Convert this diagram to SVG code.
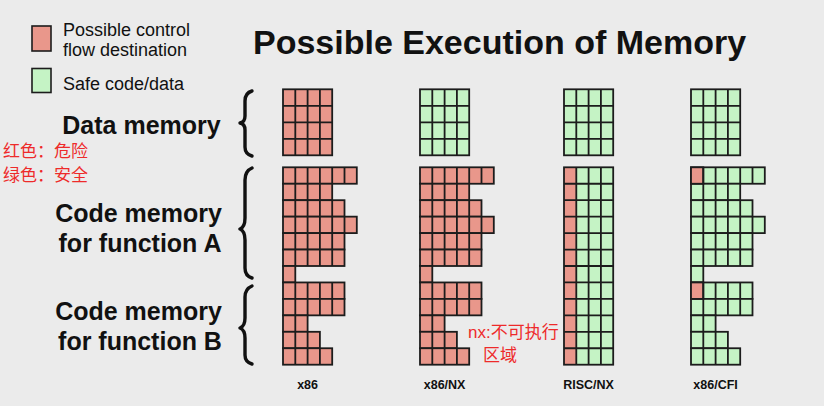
<svg xmlns="http://www.w3.org/2000/svg" xmlns:xlink="http://www.w3.org/1999/xlink" width="824" height="406" viewBox="0 0 824 406">
<style>
.bg{fill:#EBEBEB}
.r{fill:#E9978B}
.g{fill:#C5F3C5}
.cell rect{stroke:#1c1c1c;stroke-width:1.8}
.ln{fill:none;stroke:#1c1c1c;stroke-width:1.8}
.brace{fill:none;stroke:#111;stroke-width:3.4;stroke-linecap:round;stroke-linejoin:round}
.t{font-family:"Liberation Sans",Arial,sans-serif;fill:#111}
.title{font-size:34px;font-weight:bold}
.lab{font-size:25px;font-weight:bold;text-anchor:middle}
.leg{font-size:18px}
.col{font-size:12.5px;font-weight:bold;text-anchor:middle}
.cn{font-family:"Liberation Sans","Noto Sans CJK SC",sans-serif;font-size:17px;fill:#EE2A2A}
</style>
<defs>
<g id="dataBlock" class="cell">
<rect x="0" y="0" width="49.2" height="66"/>
<path class="ln" d="M12.3 0V66M24.6 0V66M36.9 0V66M0 16.5H49.2M0 33H49.2M0 49.5H49.2"/>
</g>
<g id="codeShape" class="cell">
<rect x="0" y="0" width="73.8" height="16.45"/>
<rect x="0" y="16.45" width="49.2" height="16.45"/>
<rect x="0" y="32.9" width="61.5" height="16.45"/>
<rect x="0" y="49.35" width="73.8" height="16.45"/>
<rect x="0" y="65.8" width="61.5" height="16.45"/>
<rect x="0" y="82.25" width="61.5" height="16.45"/>
<rect x="0" y="98.7" width="12.3" height="16.45"/>
<rect x="0" y="115.15" width="61.5" height="16.45"/>
<rect x="0" y="131.6" width="61.5" height="16.45"/>
<rect x="0" y="148.05" width="24.6" height="16.45"/>
<rect x="0" y="164.5" width="36.9" height="16.45"/>
<rect x="0" y="180.95" width="49.2" height="16.45"/>
</g>
<path id="codeLines" class="ln" d="M12.3 0V98.7M12.3 115.15V197.4M24.6 0V98.7M24.6 115.15V148.05M24.6 164.5V197.4M36.9 0V98.7M36.9 115.15V148.05M36.9 180.95V197.4M49.2 0V16.45M49.2 32.9V98.7M49.2 115.15V148.05M61.5 0V16.45M61.5 49.35V65.8"/>
</defs>
<rect class="bg" x="0" y="0" width="824" height="406"/>

<g id="legend">
<rect class="r" x="32" y="26" width="19" height="25" stroke="#1c1c1c" stroke-width="1.6"/>
<text class="t leg" x="63" y="36">Possible control</text>
<text class="t leg" x="63" y="56">flow destination</text>
<rect class="g" x="32" y="68.5" width="19" height="24" stroke="#1c1c1c" stroke-width="1.6"/>
<text class="t leg" x="63" y="89.5">Safe code/data</text>
</g>

<g id="title"><text class="t title" x="253" y="54">Possible Execution of Memory</text></g>

<g id="labels">
<text class="t lab" x="141.5" y="134">Data memory</text>
<text class="t lab" x="138.5" y="222">Code memory</text>
<text class="t lab" x="140" y="252">for function A</text>
<text class="t lab" x="138.5" y="320">Code memory</text>
<text class="t lab" x="140" y="350">for function B</text>
</g>

<g id="note-colors">
<text class="cn" x="3" y="157">红色：危险</text>
<text class="cn" x="3" y="181">绿色：安全</text>
</g>

<g id="connectors">
<path class="brace" d="M252 91Q245 93 245 101V116Q245 122 240 123Q245 124 245 130V147Q245 154 252 156"/>
<path class="brace" d="M252 168Q245 171 245 180V218Q245 227 240 229Q245 231 245 240V268Q245 276 252 278"/>
<path class="brace" d="M252 286Q245 289 245 297V318Q245 326 240 328Q245 330 245 338V355Q245 362 252 364"/>
</g>

<g id="col-x86">
<use xlink:href="#dataBlock" href="#dataBlock" class="r" transform="translate(283,89.3)"/>
<g transform="translate(283,167.3)">
<use xlink:href="#codeShape" href="#codeShape" class="r"/>
<use xlink:href="#codeLines" href="#codeLines"/>
</g>
<text class="t col" x="307.6" y="389">x86</text>
</g>

<g id="col-x86nx">
<use xlink:href="#dataBlock" href="#dataBlock" class="g" transform="translate(420,89.3)"/>
<g transform="translate(420,167.3)">
<use xlink:href="#codeShape" href="#codeShape" class="r"/>
<use xlink:href="#codeLines" href="#codeLines"/>
</g>
<text class="t col" x="444.6" y="389">x86/NX</text>
</g>

<g id="col-riscnx">
<use xlink:href="#dataBlock" href="#dataBlock" class="g" transform="translate(564,89.3)"/>
<g transform="translate(564,167.3)">
<rect class="g" x="0" y="0" width="49.2" height="197.4"/>
<rect class="r" x="0" y="0" width="12.3" height="197.4"/>
<rect x="0" y="0" width="49.2" height="197.4" fill="none" stroke="#1c1c1c" stroke-width="1.8"/>
<path class="ln" d="M12.3 0V197.4M24.6 0V197.4M36.9 0V197.4M0 16.45H49.2M0 32.9H49.2M0 49.35H49.2M0 65.8H49.2M0 82.25H49.2M0 98.7H49.2M0 115.15H49.2M0 131.6H49.2M0 148.05H49.2M0 164.5H49.2M0 180.95H49.2"/>
</g>
<text class="t col" x="588.6" y="389">RISC/NX</text>
</g>

<g id="col-x86cfi">
<use xlink:href="#dataBlock" href="#dataBlock" class="g" transform="translate(691,89.3)"/>
<g transform="translate(691,167.3)">
<use xlink:href="#codeShape" href="#codeShape" class="g"/>
<rect class="r" x="0" y="0" width="12.3" height="16.45" stroke="#1c1c1c" stroke-width="1.8"/>
<rect class="r" x="0" y="115.15" width="12.3" height="16.45" stroke="#1c1c1c" stroke-width="1.8"/>
<use xlink:href="#codeLines" href="#codeLines"/>
</g>
<text class="t col" x="715.6" y="389">x86/CFI</text>
</g>

<g id="note-nx">
<text class="cn" x="468" y="338">nx:不可执行</text>
<text class="cn" x="483" y="361">区域</text>
</g>
</svg>
